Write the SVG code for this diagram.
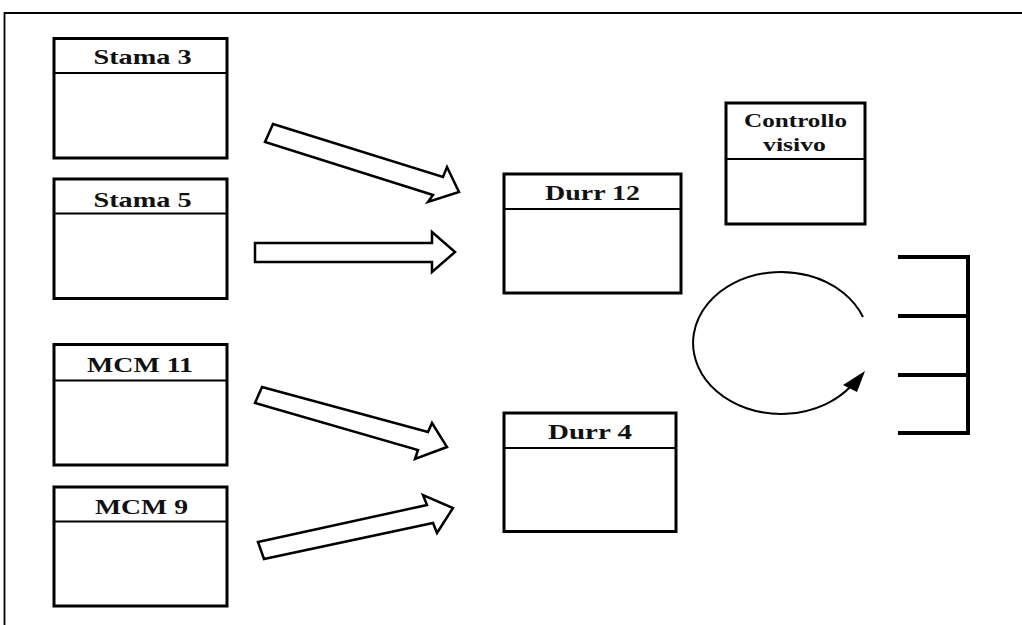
<svg xmlns="http://www.w3.org/2000/svg" width="1022" height="625" viewBox="0 0 1022 625">
<style>
.box{fill:#fff;stroke:#000;stroke-width:3}
.hd{stroke:#000;stroke-width:2}
.lbl{font-family:"Liberation Serif","Times New Roman",serif;font-weight:bold;font-size:21.5px;fill:#111}
.sm{font-size:18.5px}
.arr{fill:#fff;stroke:#000;stroke-width:2.5;stroke-linejoin:miter}
.br{stroke:#000;stroke-width:4;fill:none}
</style>
<rect width="1022" height="625" fill="#fff"/>
<path d="M4.5,625 V13 H1022" fill="none" stroke="#000" stroke-width="1.8"/>
<g id="stama3"><rect class="box" x="54" y="38.5" width="173" height="119.5"/><line class="hd" x1="54" y1="73" x2="227" y2="73"/><text class="lbl" x="93.5" y="63.5" textLength="98" lengthAdjust="spacingAndGlyphs">Stama 3</text></g>
<g id="stama5"><rect class="box" x="54" y="179" width="173" height="119.5"/><line class="hd" x1="54" y1="213.5" x2="227" y2="213.5"/><text class="lbl" x="93.5" y="206.5" textLength="98" lengthAdjust="spacingAndGlyphs">Stama 5</text></g>
<g id="mcm11"><rect class="box" x="54" y="344.5" width="173" height="120.5"/><line class="hd" x1="54" y1="380.5" x2="227" y2="380.5"/><text class="lbl" x="87" y="372" textLength="106" lengthAdjust="spacingAndGlyphs">MCM 11</text></g>
<g id="mcm9"><rect class="box" x="54" y="487" width="173" height="119"/><line class="hd" x1="54" y1="521.5" x2="227" y2="521.5"/><text class="lbl" x="95" y="513.5" textLength="93" lengthAdjust="spacingAndGlyphs">MCM 9</text></g>
<g id="durr12"><rect class="box" x="504" y="174" width="177" height="119"/><line class="hd" x1="504" y1="209" x2="681" y2="209"/><text class="lbl" x="545" y="199.5" textLength="95" lengthAdjust="spacingAndGlyphs">Durr 12</text></g>
<g id="durr4"><rect class="box" x="504" y="413" width="172" height="118.5"/><line class="hd" x1="504" y1="448" x2="676" y2="448"/><text class="lbl" x="548" y="438.5" textLength="84" lengthAdjust="spacingAndGlyphs">Durr 4</text></g>
<g id="controllo"><rect class="box" x="726" y="103" width="139" height="121"/><line class="hd" x1="726" y1="159" x2="865" y2="159"/><text class="lbl sm" x="744" y="127" textLength="103" lengthAdjust="spacingAndGlyphs">Controllo</text><text class="lbl sm" x="763" y="150.5" textLength="63" lengthAdjust="spacingAndGlyphs">visivo</text></g>
<g id="connectors">
<polygon class="arr" points="273,124 443,177 447,167 459,192 428,202 433,195 265,142"/>
<polygon class="arr" points="255,243 432,243 432,232 455,252 432,272 432,262 255,262"/>
<polygon class="arr" points="262,387 428,432 432,423 447,447 415,459 418,450 255,403"/>
<polygon class="arr" points="258,542 427,505 423,495 453,508 437,533 433,523 264,559"/>
<path d="M863,317 A88,71 0 1 0 852,385" fill="none" stroke="#000" stroke-width="2"/>
<polygon points="865,371 843,385 857,392" fill="#000"/>
</g>
<g id="rack">
<line class="br" x1="968" y1="255" x2="968" y2="435"/>
<line class="br" x1="898" y1="257" x2="970" y2="257"/>
<line class="br" x1="898" y1="316" x2="970" y2="316"/>
<line class="br" x1="898" y1="375" x2="970" y2="375"/>
<line class="br" x1="898" y1="433" x2="970" y2="433"/>
</g>
</svg>
